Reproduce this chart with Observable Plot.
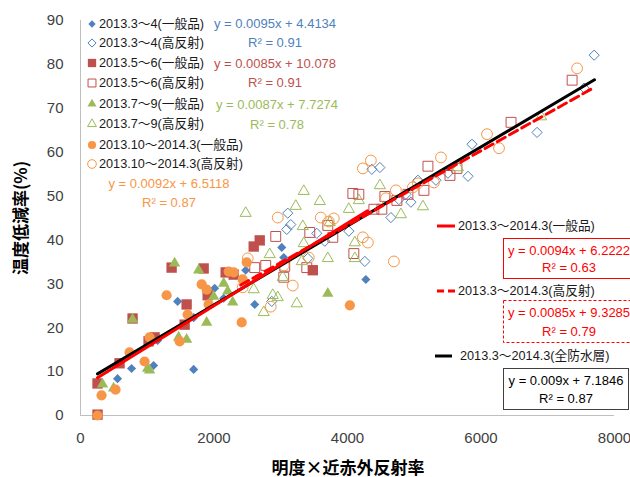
<!DOCTYPE html>
<html><head><meta charset="utf-8">
<script src="https://cdn.jsdelivr.net/npm/d3@7"></script>
<script src="https://cdn.jsdelivr.net/npm/@observablehq/plot@0.6"></script>
<style>body{margin:0;background:#fff}#chart{width:630px;height:477px}</style>
</head><body><div id="chart"></div>
<script>
// ---- data ----
const seriesNames = ["2013.3～4(一般品)","2013.3～4(高反射)","2013.5～6(一般品)","2013.5～6(高反射)","2013.7～9(一般品)","2013.7～9(高反射)","2013.10～2014.3(一般品)","2013.10～2014.3(高反射)"];

const s34General = [[555,8.4],[765,10.7],[1095,11.4],[1155,17.1],[1455,26.0],[1695,10.5],[1695,22.3],[2010,29.0],[2145,26.7],[2475,33.1],[2610,25.3],[3015,38.3],[3045,36.0],[4275,31.0]];
const s34Reflect = [[7695,82.1],[7545,74.6],[6840,64.5],[5865,61.8],[5805,54.5],[5505,55.2],[4485,56.5],[5325,53.6],[5055,53.6],[4875,50.4],[4950,48.6],[4650,45.1],[4770,49.2],[4365,56.1],[3105,46.1],[3150,43.5],[3090,42.4],[3540,41.5],[3660,39.7],[4020,42.0],[4260,35.1],[2865,26.0],[3405,35.8]];
const s56General = [[255,0.2],[255,7.3],[585,11.9],[780,22.1],[1020,16.9],[1110,17.8],[1365,33.7],[1845,33.5],[1590,25.3],[1560,20.7],[2175,32.6],[2295,32.1],[1905,27.4],[2595,38.5],[2685,39.9],[3480,33.1]];
const s56Reflect = [[7365,76.4],[6450,66.8],[5535,54.7],[5640,56.3],[5205,56.8],[5145,51.3],[4905,50.4],[4560,49.9],[4395,47.0],[4515,47.0],[4740,49.0],[4080,50.6],[4170,50.4],[2925,40.8],[3435,41.7],[3705,43.3],[3780,40.6],[4095,36.9],[2610,33.7],[2775,34.2],[3060,34.0],[3045,31.5],[3390,33.7]];
const s79General = [[330,7.1],[495,6.2],[780,21.9],[1410,34.7],[1770,33.1],[1470,17.8],[1590,17.3],[1890,21.2],[1005,10.7],[1035,10.3],[2145,30.1],[2205,28.3],[2280,25.8],[1995,27.1],[3705,27.8]];
const s79Reflect = [[2475,46.1],[3345,51.1],[3585,48.8],[3225,47.7],[4020,47.0],[4485,52.4],[4170,49.0],[3330,43.1],[2835,36.7],[3030,31.5],[3705,35.8],[4110,39.4],[4110,35.8],[2595,28.7],[2880,27.4],[2955,26.9],[3240,25.5],[2745,23.5],[3315,35.1],[3735,44.0],[4800,45.8],[5130,47.6],[5655,56.5],[6900,68.1],[3345,39.2]];
const s103General = [[255,0],[315,4.6],[525,5.9],[1290,27.4],[735,14.4],[1035,17.8],[960,12.3],[1485,16.9],[1605,23.0],[1815,29.9],[1890,28.7],[1920,25.3],[2220,32.8],[2295,32.6],[2430,31.0],[2415,21.2],[2490,34.9],[4035,25.1]];
const s103Reflect = [[7440,79.1],[6090,64.1],[6270,60.9],[5400,58.8],[5055,52.9],[5295,53.1],[4980,52.0],[4575,49.5],[4725,51.3],[4695,35.1],[4230,56.3],[4350,58.1],[2955,45.1],[3600,45.1],[3720,44.2],[3795,44.9],[4230,40.6],[4305,39.4],[2505,35.8],[3180,29.6],[2850,24.8],[3420,36.0],[3045,34.2],[2430,29.2]];

const seriesEquations = ["y = 0.0095x + 4.4134","y = 0.0085x + 10.078","y = 0.0087x + 7.7274","y = 0.0092x + 6.5118"];
const seriesR2 = ["R² = 0.91","R² = 0.91","R² = 0.78","R² = 0.87"];

const trendNames = ["2013.3～2014.3(一般品)","2013.3～2014.3(高反射)","2013.3～2014.3(全防水層)"];
const trendSlopes = [0.0094, 0.0085, 0.009];
const trendIntercepts = [6.2222, 9.3285, 7.1846];
const trendXRange = [[255,4300],[2400,7700],[255,7700]];
const trendEquations = ["y = 0.0094x + 6.2222","y = 0.0085x + 9.3285","y = 0.009x + 7.1846"];
const trendR2 = ["R² = 0.63","R² = 0.79","R² = 0.87"];

const xTicks = [0,2000,4000,6000,8000];
const yTicks = [0,10,20,30,40,50,60,70,80,90];
const xTitle = "明度×近赤外反射率";
const yTitle = "温度低減率(%)";

// ---- styles ----
const seriesData = [s34General,s34Reflect,s56General,s56Reflect,s79General,s79Reflect,s103General,s103Reflect];
const BLUE="#4F81BD", RED="#C0504D", GREEN="#9BBB59", ORANGE="#F79646";
const colors = [BLUE,BLUE,RED,RED,GREEN,GREEN,ORANGE,ORANGE];
const symbols = ["diamond2","diamond2","square2","square2","triangle2","triangle2","circle","circle"];
const filled = [true,false,true,false,true,false,true,false];
const radii = [4.1,4.6,6.6,6.3,5.4,5.3,5.1,5.4];
const trendColors = ["#FF0000","#FF0000","#000000"];
const trendDash = [null,"9,5",null];

const FONT = '"Liberation Sans","Noto Sans CJK JP",sans-serif';
const CJK = '"Noto Sans CJK JP","Liberation Sans",sans-serif';

const trendLines = trendNames.map((n,i)=>trendXRange[i].map(x=>({x, y: trendSlopes[i]*x + trendIntercepts[i]})));

const dotMarks = seriesData.map((data,i)=>Plot.dot(data,{
  x:d=>d[0], y:d=>d[1], symbol:symbols[i], r:radii[i],
  fill: filled[i]?colors[i]:"none", stroke: filled[i]?"none":colors[i], strokeWidth:1
}));
const lineMarks = [2,0,1].map(i=>Plot.line(trendLines[i],{x:"x",y:"y",stroke:trendColors[i],strokeWidth:3,strokeDasharray:trendDash[i]}));

const plot = Plot.plot({
  width:630, height:477, marginLeft:80, marginRight:16, marginTop:20, marginBottom:62,
  style:{fontFamily:FONT, fontSize:"15px", color:"#404040", background:"#fff"},
  x:{domain:[0,8000], ticks:xTicks, tickFormat:"d", label:null, tickSize:0, tickPadding:17},
  y:{domain:[0,90], ticks:yTicks, label:null, tickSize:0, tickPadding:17},
  marks:[
    Plot.ruleX([0],{stroke:"#bfbfbf"}),
    Plot.ruleY([0],{stroke:"#bfbfbf"}),
    ...dotMarks,
    ...lineMarks
  ]
});
document.getElementById("chart").appendChild(plot);

// ---- annotations ----
const svg = d3.select(plot);
const g = svg.append("g").attr("text-anchor","start");

// axis titles
g.append("text").attr("transform","translate(19,218) rotate(-90)")
  .attr("text-anchor","middle").attr("dominant-baseline","central")
  .style("font-family",CJK).style("font-size","17px").style("font-weight","bold").attr("fill","#000").text(yTitle);
g.append("text").attr("x",348).attr("y",466)
  .attr("text-anchor","middle").attr("dominant-baseline","central")
  .style("font-family",CJK).style("font-size","17px").style("font-weight","bold").attr("fill","#000").text(xTitle);

// left legend
const legY = [24,43,63,83,104,124,145,164];
const d3sym = {diamond2:d3.symbolDiamond2, square2:d3.symbolSquare2, triangle2:d3.symbolTriangle2, circle:d3.symbolCircle};
seriesNames.forEach((name,i)=>{
  const r = radii[i]*0.8;
  g.append("path").attr("transform",`translate(92,${legY[i]})`)
    .attr("d", d3.symbol(d3sym[symbols[i]], Math.PI*r*r)())
    .attr("fill", filled[i]?colors[i]:"none").attr("stroke", filled[i]?"none":colors[i]).attr("stroke-width",1);
  g.append("text").attr("x",99).attr("y",legY[i]).attr("text-anchor","start").attr("dominant-baseline","central")
    .style("font-family",FONT).style("font-size","12.7px").attr("fill","#1a1a1a").text(name);
});

// series equations
const eqPos = [[275,23,42],[275,63,82],[277,104,124],[169,183,202]];
const eqColors = [BLUE,RED,GREEN,ORANGE];
seriesEquations.forEach((eq,i)=>{
  const [x,y1,y2] = eqPos[i];
  g.append("text").attr("x",x).attr("y",y1).attr("text-anchor","middle").attr("dominant-baseline","central")
    .style("font-family",FONT).style("font-size","13px").attr("fill",eqColors[i]).text(eq);
  g.append("text").attr("x",x).attr("y",y2).attr("text-anchor","middle").attr("dominant-baseline","central")
    .style("font-family",FONT).style("font-size","13px").attr("fill",eqColors[i]).text(seriesR2[i]);
});

// trend legend + boxes
const tSampleY = [226,291,356];
const tBox = [[503,238,132,40],[503,300,132,42],[503,368,125,41]];
const tBoxStroke = ["#FF0000","#FF0000","#404040"];
const tTextColor = ["#FF0000","#FF0000","#000000"];
trendNames.forEach((name,i)=>{
  g.append("line").attr("x1",i===2?435:437).attr("x2",i===2?452:455).attr("y1",tSampleY[i]).attr("y2",tSampleY[i])
    .attr("stroke",trendColors[i]).attr("stroke-width",3).attr("stroke-dasharray",trendDash[i]?"7,4":null);
  g.append("text").attr("x",i===2?460:458).attr("y",tSampleY[i]).attr("text-anchor","start").attr("dominant-baseline","central")
    .style("font-family",FONT).style("font-size","12.7px").attr("fill","#1a1a1a").text(name);
  const [bx,by,bw,bh] = tBox[i];
  g.append("rect").attr("x",bx+0.5).attr("y",by+0.5).attr("width",bw).attr("height",bh)
    .attr("fill","#fff").attr("stroke",tBoxStroke[i]).attr("stroke-width",1)
    .attr("stroke-dasharray",i===1?"3,2":null);
  const cx = i===2?566:569;
  g.append("text").attr("x",cx).attr("y",by+bh*0.3).attr("text-anchor","middle").attr("dominant-baseline","central")
    .style("font-family",FONT).style("font-size","13px").attr("fill",tTextColor[i]).text(trendEquations[i]);
  g.append("text").attr("x",cx).attr("y",by+bh*0.74).attr("text-anchor","middle").attr("dominant-baseline","central")
    .style("font-family",FONT).style("font-size","13px").attr("fill",tTextColor[i]).text(trendR2[i]);
});
</script></body></html>
